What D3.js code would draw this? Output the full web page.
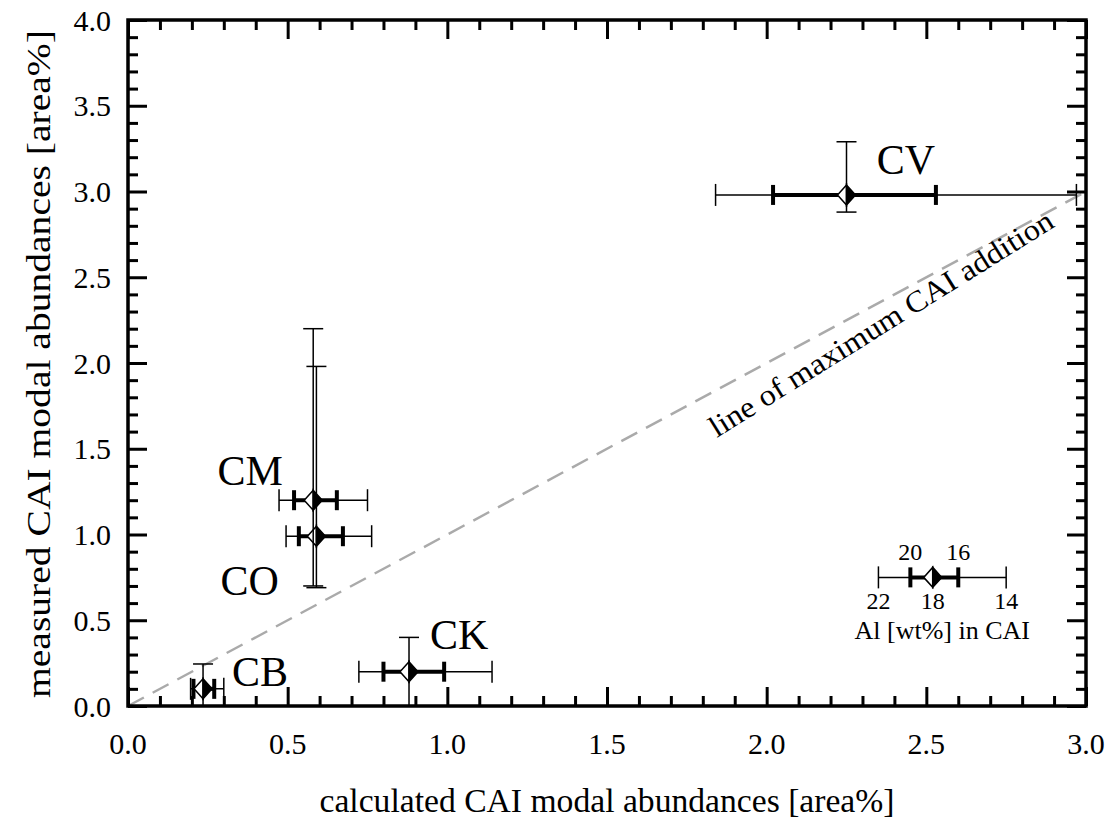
<!DOCTYPE html>
<html>
<head>
<meta charset="utf-8">
<script src="https://cdn.jsdelivr.net/npm/d3@7"></script>
<style>
  body { margin: 0; background: #fff; }
  text { font-family: "Liberation Serif", "Times New Roman", serif; fill: #000; }
</style>
</head>
<body>
<div id="chart"></div>
<script>
// chondrite groups and their CAI modal abundances
var groups = ["CB", "CK", "CO", "CM", "CV"];
var calculated = [0.235, 0.88, 0.59, 0.58, 2.25];
var measured = [0.10, 0.20, 0.99, 1.20, 2.98];
// horizontal error bars (outer thin, inner thick)
var calcLow = [0.196, 0.723, 0.495, 0.473, 1.84];
var calcHigh = [0.30, 1.14, 0.763, 0.75, 2.97];
var calcLowInner = [0.205, 0.80, 0.535, 0.52, 2.02];
var calcHighInner = [0.27, 0.99, 0.673, 0.654, 2.53];
// vertical error bars
var measLow = [0, 0, 0.69, 0.70, 2.88];
var measHigh = [0.245, 0.40, 1.98, 2.20, 3.29];
// label anchors in data units
var labelX = [0.326, 0.946, 0.29, 0.28, 2.345];
var labelY = [0.117, 0.33, 0.65, 1.29, 3.10];

// legend: Al content scale
var legendPoint = [2.52, 0.75];
var legendOuter = [2.35, 2.75];
var legendInner = [2.45, 2.60];
var legendTop = ["20", "16"];
var legendBottom = ["22", "18", "14"];

var xTicks = [0, 0.5, 1.0, 1.5, 2.0, 2.5, 3.0];
var yTicks = [0, 0.5, 1.0, 1.5, 2.0, 2.5, 3.0, 3.5, 4.0];

var W = 1112, H = 833;
var margin = {top: 20, right: 26, bottom: 127, left: 128};
var width = W - margin.left - margin.right;
var height = H - margin.top - margin.bottom;

var svg = d3.select("#chart").append("svg")
    .attr("width", W)
    .attr("height", H);

var g = svg.append("g")
    .attr("transform", "translate(" + margin.left + "," + margin.top + ")");

var x = d3.scaleLinear().domain([0, 3]).range([0, width]);
var y = d3.scaleLinear().domain([0, 4]).range([height, 0]);

var minorX = d3.range(0, 31).map(function (i) { return i / 10; })
    .filter(function (v) { return Math.round(v * 10) % 5 !== 0; });
var minorY = d3.range(0, 41).map(function (i) { return i / 10; })
    .filter(function (v) { return Math.round(v * 10) % 5 !== 0; });

// 1:1 dashed line
g.append("line")
    .attr("x1", x(0)).attr("y1", y(0))
    .attr("x2", x(3)).attr("y2", y(3))
    .attr("stroke", "#aaa")
    .attr("stroke-width", 2.5)
    .attr("stroke-dasharray", "18,10");

g.append("text")
    .attr("transform", "translate(" + x(2.375) + "," + y(2.18) + ") rotate(-32)")
    .attr("text-anchor", "middle")
    .attr("font-size", 30)
    .attr("textLength", 400)
    .attr("lengthAdjust", "spacingAndGlyphs")
    .text("line of maximum CAI addition");

// ticks: draw every side inward
function tickAxis(axisFn, ticks, size, transform) {
  var a = g.append("g")
      .attr("transform", transform || null)
      .call(axisFn.tickValues(ticks).tickSize(size).tickFormat(""));
  a.select(".domain").remove();
  a.selectAll(".tick line").attr("stroke", "#000").attr("stroke-width", 3);
}
tickAxis(d3.axisBottom(x), xTicks, -19, "translate(0," + height + ")");
tickAxis(d3.axisBottom(x), minorX, -10, "translate(0," + height + ")");
tickAxis(d3.axisTop(x), xTicks, -19);
tickAxis(d3.axisTop(x), minorX, -10);
tickAxis(d3.axisLeft(y), yTicks, -19);
tickAxis(d3.axisLeft(y), minorY, -10);
tickAxis(d3.axisRight(y), yTicks, -19, "translate(" + width + ",0)");
tickAxis(d3.axisRight(y), minorY, -10, "translate(" + width + ",0)");

// tick labels
g.append("g").selectAll("text")
    .data(xTicks).enter().append("text")
    .attr("x", function (d) { return x(d); })
    .attr("y", height + 48)
    .attr("text-anchor", "middle")
    .attr("font-size", 30)
    .text(d3.format(".1f"));

g.append("g").selectAll("text")
    .data(yTicks).enter().append("text")
    .attr("x", -17)
    .attr("y", function (d) { return y(d); })
    .attr("dy", "0.35em")
    .attr("text-anchor", "end")
    .attr("font-size", 30)
    .text(d3.format(".1f"));

// frame
g.append("rect")
    .attr("width", width).attr("height", height)
    .attr("fill", "none")
    .attr("stroke", "#000")
    .attr("stroke-width", 3.5);

// axis titles
svg.append("text")
    .attr("x", 607)
    .attr("y", 812)
    .attr("text-anchor", "middle")
    .attr("font-size", 33)
    .attr("textLength", 575)
    .attr("lengthAdjust", "spacingAndGlyphs")
    .text("calculated CAI modal abundances [area%]");

svg.append("text")
    .attr("transform", "translate(50,364) rotate(-90)")
    .attr("text-anchor", "middle")
    .attr("font-size", 34)
    .attr("textLength", 668)
    .attr("lengthAdjust", "spacingAndGlyphs")
    .text("measured CAI modal abundances [area%]");

// error bar helpers
function hBar(parent, x0, x1, yv, w, cap) {
  parent.append("line")
      .attr("x1", x(x0)).attr("x2", x(x1))
      .attr("y1", y(yv)).attr("y2", y(yv))
      .attr("stroke", "#000").attr("stroke-width", w);
  [x0, x1].forEach(function (v) {
    parent.append("line")
        .attr("x1", x(v)).attr("x2", x(v))
        .attr("y1", y(yv) - cap).attr("y2", y(yv) + cap)
        .attr("stroke", "#000").attr("stroke-width", w);
  });
}
function vBar(parent, xv, y0, y1, cap) {
  parent.append("line")
      .attr("x1", x(xv)).attr("x2", x(xv))
      .attr("y1", y(y0)).attr("y2", y(y1))
      .attr("stroke", "#000").attr("stroke-width", 1.5);
  [y0, y1].forEach(function (v) {
    if (v <= 0) return;
    parent.append("line")
        .attr("x1", x(xv) - cap).attr("x2", x(xv) + cap)
        .attr("y1", y(v)).attr("y2", y(v))
        .attr("stroke", "#000").attr("stroke-width", 1.5);
  });
}
function diamond(parent, cx, cy) {
  var px = x(cx), py = y(cy), hw = 9, hh = 10;
  parent.append("path")
      .attr("d", "M" + px + "," + (py - hh) + "L" + (px - hw) + "," + py + "L" + px + "," + (py + hh) + "Z")
      .attr("fill", "#fff").attr("stroke", "#000").attr("stroke-width", 1.5);
  parent.append("path")
      .attr("d", "M" + px + "," + (py - hh) + "L" + (px + hw) + "," + py + "L" + px + "," + (py + hh) + "Z")
      .attr("fill", "#000").attr("stroke", "#000").attr("stroke-width", 1.5);
}

var marks = g.append("g");
groups.forEach(function (name, i) {
  vBar(marks, calculated[i], measLow[i], measHigh[i], 10);
  hBar(marks, calcLow[i], calcHigh[i], measured[i], 1.5, 11);
  hBar(marks, calcLowInner[i], calcHighInner[i], measured[i], 4, 10);
  diamond(marks, calculated[i], measured[i]);
  marks.append("text")
      .attr("x", x(labelX[i]))
      .attr("y", y(labelY[i]))
      .attr("font-size", 42)
      .text(name);
});

// legend
var lg = g.append("g");
hBar(lg, legendOuter[0], legendOuter[1], legendPoint[1], 1.5, 11);
hBar(lg, legendInner[0], legendInner[1], legendPoint[1], 4, 10);
diamond(lg, legendPoint[0], legendPoint[1]);
lg.selectAll(".ltop").data(legendTop).enter().append("text")
    .attr("x", function (d, i) { return x(legendInner[i]); })
    .attr("y", y(legendPoint[1]) - 17)
    .attr("text-anchor", "middle")
    .attr("font-size", 24)
    .text(function (d) { return d; });
var bottomPos = [legendOuter[0], legendPoint[0], legendOuter[1]];
lg.selectAll(".lbot").data(legendBottom).enter().append("text")
    .attr("x", function (d, i) { return x(bottomPos[i]); })
    .attr("y", y(legendPoint[1]) + 32)
    .attr("text-anchor", "middle")
    .attr("font-size", 24)
    .text(function (d) { return d; });
lg.append("text")
    .attr("x", x(2.55))
    .attr("y", y(legendPoint[1]) + 62)
    .attr("text-anchor", "middle")
    .attr("font-size", 26)
    .text("Al [wt%] in CAI");
</script>
</body>
</html>
